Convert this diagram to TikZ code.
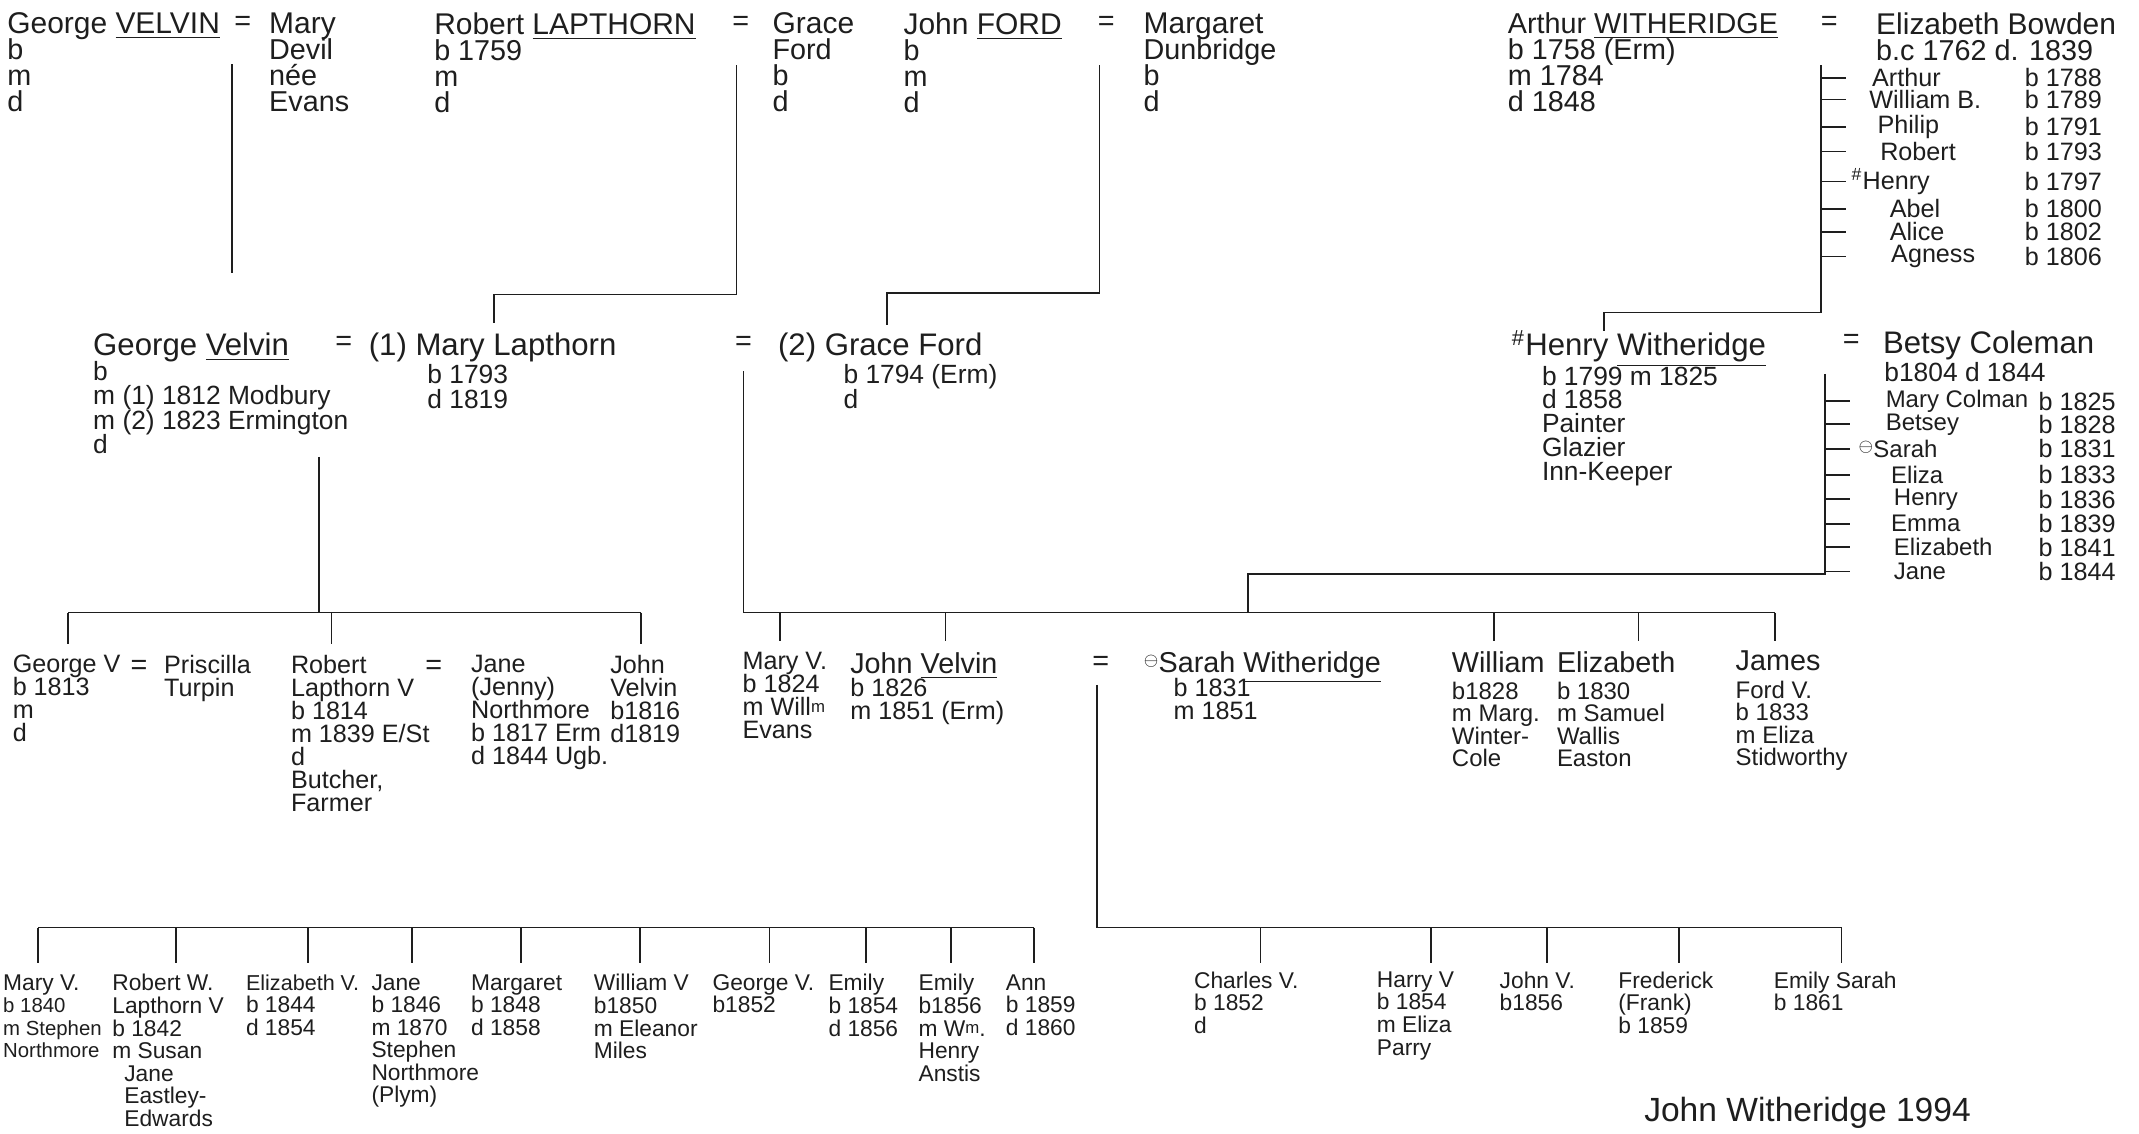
\documentclass[tikz,border=0pt]{standalone}
\usepackage{fontspec}
\setmainfont{Liberation Sans}
\usepackage{xcolor}
\definecolor{ink}{HTML}{1E1E1E}
\newcommand{\undl}[1]{\underline{#1}}
\newcommand{\hda}[1]{{\fontsize{12.5}{12}\selectfont #1}}
\newcommand{\hdb}[1]{{\fontsize{13}{12}\selectfont #1}}
\newcommand{\hdc}[1]{{\fontsize{10.5}{11}\selectfont #1}}
\newcommand{\hdcc}[1]{{\fontsize{12}{12}\selectfont #1}}
\newcommand{\hdd}[1]{{\fontsize{9.5}{9.5}\selectfont #1}}
\newcommand{\tmark}{\raisebox{.45ex}{\scriptsize$\ominus$}}
\newcommand{\supm}{\raisebox{.25ex}{\scriptsize m}}
\lineskiplimit=-\maxdimen
\tikzset{
  famline/.style={draw=ink, line width=0.7pt},
  txt/.style={anchor=north west, inner sep=0pt, align=left, text=ink},
  rowone/.style={font=\fontsize{12}{10.8}\selectfont},
  rowtwo/.style={font=\fontsize{11}{10.2}\selectfont},
  henrysub/.style={font=\fontsize{11}{9.9}\selectfont},
  rowthree/.style={font=\fontsize{10.5}{9.6}\selectfont},
  rowthreeb/.style={font=\fontsize{10}{9.4}\selectfont},
  rowfour/.style={font=\fontsize{9.5}{9.4}\selectfont},
  rowfoursm/.style={font=\fontsize{8.5}{9.4}\selectfont},
  kidtxt/.style={anchor=west, inner sep=0pt, text=ink, font=\fontsize{10.5}{10}\selectfont},
  kidtxtb/.style={anchor=west, inner sep=0pt, text=ink, font=\fontsize{10}{10}\selectfont},
  eqsign/.style={inner sep=0pt, text=ink, font=\fontsize{12}{12}\selectfont}
}

\begin{document}
\begin{tikzpicture}[x=0.02cm,y=-0.02cm]
  \fill[white] (0,0) rectangle (1568,831);
  \useasboundingbox (0,0) rectangle (1568,831);

  % first generation
  \node[txt, rowone] (gvelvin) at (5,9) {\hda{George \undl{VELVIN}}\\b\\m\\d};
  \node[eqsign] (eqvm) at (178,17) {=};
  \node[txt, rowone] (mdevil) at (197,9) {\hda{Mary}\\Devil\\née\\Evans};

  \node[txt, rowone] (rlap) at (318,9) {\hda{Robert \undl{LAPTHORN}}\\b 1759\\m\\d};
  \node[eqsign] (eqlg) at (543,17) {=};
  \node[txt, rowone] (gford) at (566,9) {\hda{Grace}\\Ford\\b\\d};

  \node[txt, rowone] (jford) at (662,9) {\hda{John \undl{FORD}}\\b\\m\\d};
  \node[eqsign] (eqfm) at (811,17) {=};
  \node[txt, rowone] (mdun) at (838,9) {\hda{Margaret}\\Dunbridge\\b\\d};

  \node[txt, rowone] (awith) at (1105,9) {\hdcc{Arthur \undl{WITHERIDGE}}\\b 1758 (Erm)\\m 1784\\d 1848};
  \node[eqsign] (eqab) at (1341,17) {=};
  \node[txt, rowone] (ebow) at (1375,9) {\hda{Elizabeth Bowden}\\b.c 1762 d. 1839};

  % descent lines, first generation
  \coordinate (velvinTop) at (170,47);
  \coordinate (velvinEnd) at (170,200);
  \draw[famline] (velvinTop) -- (velvinEnd);

  \coordinate (lapTop) at (540,48);
  \coordinate (lapBar) at (540,216);
  \coordinate (lapKid) at (362,237);
  \draw[famline] (lapTop) -- (lapBar) -| (lapKid);

  \coordinate (fordTop) at (806,48);
  \coordinate (fordBar) at (806,215);
  \coordinate (fordKid) at (650,238);
  \draw[famline] (fordTop) -- (fordBar) -| (fordKid);

  \coordinate (witherTop) at (1335,48);
  \coordinate (witherBar) at (1335,229);
  \coordinate (witherKid) at (1176,243);
  \draw[famline] (witherTop) -- (witherBar) -| (witherKid);

  % children of Arthur and Elizabeth
  \foreach \nm/\yr/\y/\x [count=\i] in {
      Arthur/1788/57/1372, William B./1789/73/1370, Philip/1791/93/1376,
      Robert/1793/111/1378, {\textsuperscript{\#}Henry}/1797/133/1357,
      Abel/1800/153/1385, Alice/1802/170/1385, Agness/1806/188/1386}{
    \node[kidtxt] (kidA\i) at (\x,\y) {\nm};
    \node[kidtxt] (yrA\i) at (1484,\y) {b \yr};
    \draw[famline] (witherTop |- kidA\i.west) -- ++(18,0);
  }

  % second generation
  \node[txt, rowtwo] (gvel2) at (68,244) {\hdb{George \undl{Velvin}}\\b\\m (1) 1812 Modbury\\m (2) 1823 Ermington\\d};
  \node[eqsign] (eqgm) at (252,252) {=};
  \node[txt, rowtwo] (mlap) at (270,244) {\hdb{(1) Mary Lapthorn}};
  \node[txt, rowtwo] (mlapsub) at (313,267) {b 1793\\d 1819};
  \node[eqsign] (eqgg) at (545,252) {=};
  \node[txt, rowtwo] (gford2) at (570,244) {\hdb{(2) Grace Ford}};
  \node[txt, rowtwo] (gford2sub) at (618,267) {b 1794 (Erm)\\d};

  \node[txt, rowtwo] (hwith) at (1108,242) {\hdb{\textsuperscript{\#}Henry \undl{Witheridge}}};
  \node[txt, henrysub] (hwithsub) at (1130,268) {b 1799 m 1825\\d 1858\\Painter\\Glazier\\Inn-Keeper};
  \node[eqsign] (eqhb) at (1357,250) {=};
  \node[txt, rowtwo] (bcol) at (1380,242) {\hdb{Betsy Coleman}};
  \node[txt, rowtwo] (bcolsub) at (1381,265) {b1804 d 1844};

  % children of Henry and Betsy
  \coordinate (henryTop) at (1338,274);
  \coordinate (henryBar) at (1338,421);
  \coordinate (henryKid) at (915,449);
  \draw[famline] (henryTop) -- (henryBar) -| (henryKid);
  \foreach \nm/\yr/\y/\x [count=\i] in {
      Mary Colman/1825/294/1382, Betsey/1828/311/1382, {\tmark Sarah}/1831/329/1362,
      Eliza/1833/348/1386, Henry/1836/366/1388, Emma/1839/384/1386,
      Elizabeth/1841/401/1388, Jane/1844/419/1388}{
    \node[kidtxtb] (kidB\i) at (\x,\y) {\nm};
    \node[kidtxt] (yrB\i) at (1494,\y) {b \yr};
    \draw[famline] (henryTop |- kidB\i.west) -- ++(18,0);
  }

  % children of George and Mary
  \coordinate (gvTop) at (234,335);
  \coordinate (gvBar) at (234,449);
  \coordinate (gvLeft) at (50,449);
  \coordinate (gvRight) at (470,449);
  \draw[famline] (gvTop) -- (gvBar);
  \draw[famline] (gvLeft) -- (gvRight);
  \foreach \x in {50,243,470}
    \draw[famline] (\x,449) -- (\x,472);

  % children of George and Grace
  \coordinate (ggTop) at (545,272);
  \coordinate (ggBar) at (545,449);
  \coordinate (ggRight) at (1301,449);
  \draw[famline] (ggTop) -- (ggBar) -- (ggRight);
  \foreach \x in {572,693,1095,1201,1301}
    \draw[famline] (\x,449) -- (\x,470);

  % third generation
  \node[txt, rowthree] (gv3) at (9,480) {\hdc{George V}\\b 1813\\m\\d};
  \node[eqsign] (eqgp) at (102,489) {=};
  \node[txt, rowthree] (prisc) at (120,480) {\hdc{Priscilla}\\Turpin};
  \node[txt, rowthree] (rob3) at (213,480) {\hdc{Robert}\\Lapthorn V\\b 1814\\m 1839 E/St\\d\\Butcher,\\Farmer};
  \node[eqsign] (eqrj) at (318,489) {=};
  \node[txt, rowthree] (jane3) at (345,480) {\hdc{Jane}\\(Jenny)\\Northmore\\b 1817 Erm\\d 1844 Ugb.};
  \node[txt, rowthree] (john3) at (447,480) {\hdc{John}\\Velvin\\b1816\\d1819};

  \node[txt, rowthree] (maryv3) at (544,478) {\hdc{Mary V.}\\b 1824\\m Will\supm\\Evans};
  \node[txt, rowthree] (jvel3) at (623,478) {\hdcc{John \undl{Velvin}}\\b 1826\\m 1851 (Erm)};
  \node[eqsign] (eqjs) at (807,486) {=};
  \node[txt, rowthree] (sarah3) at (838,477) {\hdcc{\tmark Sarah \undl{Witheridge}}};
  \node[txt, rowthree] (sarah3sub) at (860,497) {b 1831\\m 1851};
  \node[txt, rowthreeb] (will3) at (1064,477) {\hdcc{William}\\[2pt]b1828\\m Marg.\\Winter-\\Cole};
  \node[txt, rowthreeb] (eliz3) at (1141,477) {\hdcc{Elizabeth}\\[2pt]b 1830\\m Samuel\\Wallis\\Easton};
  \node[txt, rowthreeb] (james3) at (1272,477) {\hdcc{James}\\[2pt]Ford V.\\b 1833\\m Eliza\\Stidworthy};

  % children of Robert and Jane
  \coordinate (rjLeft) at (28,680);
  \coordinate (rjRight) at (758,680);
  \draw[famline] (rjLeft) -- (rjRight);
  \foreach \x in {28,129,226,302,382,469,564,635,697,758}
    \draw[famline] (\x,680) -- (\x,706);

  % children of John and Sarah
  \coordinate (jsTop) at (804,502);
  \coordinate (jsBar) at (804,680);
  \coordinate (jsRight) at (1350,680);
  \draw[famline] (jsTop) -- (jsBar) -- (jsRight);
  \foreach \x in {924,1049,1134,1231,1350}
    \draw[famline] (\x,680) -- (\x,706);

  % fourth generation
  \node[txt, rowfoursm] (b1) at (2,714) {\hdd{Mary V.}\\b 1840\\m Stephen\\Northmore};
  \node[txt, rowfour] (b2) at (82,714) {\hdd{Robert W.}\\Lapthorn V\\b 1842\\m Susan\\\hspace*{5pt}Jane\\\hspace*{5pt}Eastley-\\\hspace*{5pt}Edwards};
  \node[txt, rowfour] (b3) at (180,714) {{\fontsize{9}{9}\selectfont Elizabeth V.}\\b 1844\\d 1854};
  \node[txt, rowfour] (b4) at (272,714) {\hdd{Jane}\\b 1846\\m 1870\\Stephen\\Northmore\\(Plym)};
  \node[txt, rowfour] (b5) at (345,714) {\hdd{Margaret}\\b 1848\\d 1858};
  \node[txt, rowfour] (b6) at (435,714) {\hdd{William V}\\b1850\\m Eleanor\\Miles};
  \node[txt, rowfour] (b7) at (522,714) {\hdd{George V.}\\b1852};
  \node[txt, rowfour] (b8) at (607,714) {\hdd{Emily}\\b 1854\\d 1856};
  \node[txt, rowfour] (b9) at (673,714) {\hdd{Emily}\\b1856\\m W\supm.\\Henry\\Anstis};
  \node[txt, rowfour] (b10) at (737,714) {\hdd{Ann}\\b 1859\\d 1860};

  \node[txt, rowfour] (c1) at (875,712) {\hdd{Charles V.}\\b 1852\\d};
  \node[txt, rowfour] (c2) at (1009,712) {\hdd{Harry V}\\b 1854\\m Eliza\\Parry};
  \node[txt, rowfour] (c3) at (1099,712) {\hdd{John V.}\\b1856};
  \node[txt, rowfour] (c4) at (1186,712) {\hdd{Frederick}\\(Frank)\\b 1859};
  \node[txt, rowfour] (c5) at (1300,712) {\hdd{Emily Sarah}\\b 1861};

  \node[txt, font=\fontsize{14}{14}\selectfont] (sig) at (1205,804) {John Witheridge 1994};

\end{tikzpicture}
\end{document}
